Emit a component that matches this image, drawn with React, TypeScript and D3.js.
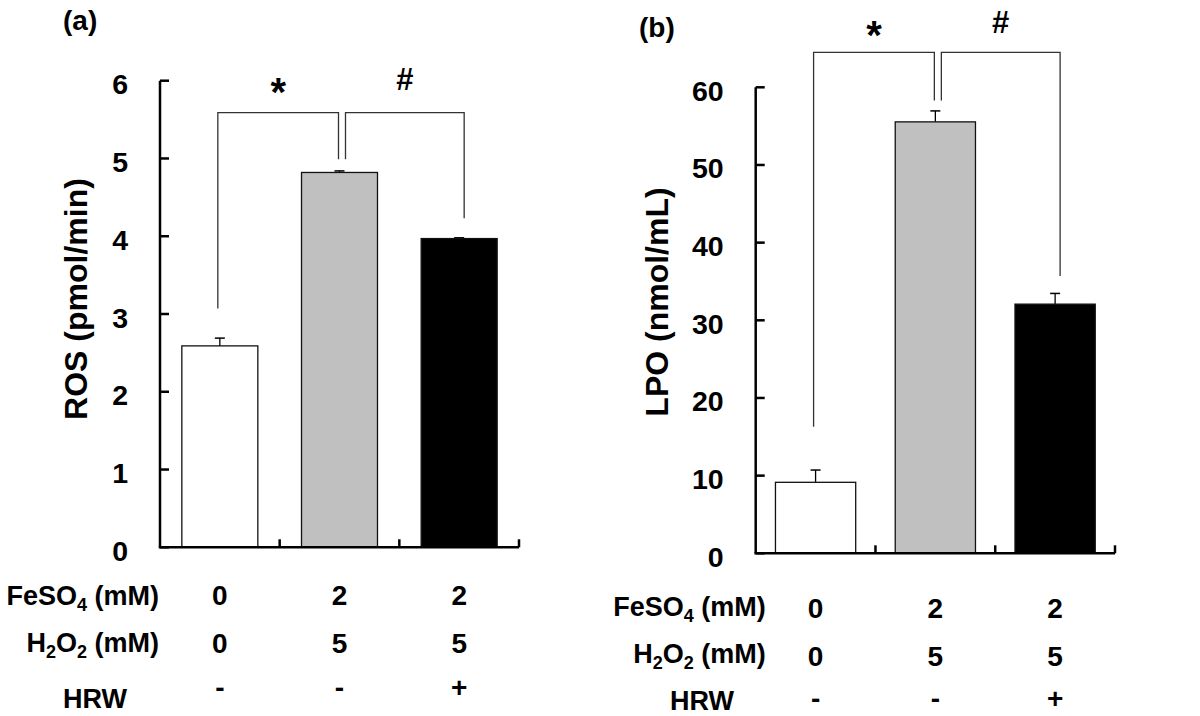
import React from "react";
import * as d3 from "d3";

const categories = ["Control", "FeSO4+H2O2", "FeSO4+H2O2+HRW"];
const rosValues = [2.59, 4.82, 3.97];
const rosErrors = [0.1, 0.02, 0.01];
const lpoValues = [9.14, 55.55, 32.08];
const lpoErrors = [1.58, 1.41, 1.38];
const rosTicks = [0, 1, 2, 3, 4, 5, 6];
const lpoTicks = [0, 10, 20, 30, 40, 50, 60];
const feso4Row = ["0", "2", "2"];
const h2o2Row = ["0", "5", "5"];
const hrwRow = ["-", "-", "+"];
const barFills = ["#ffffff", "#c0c0c0", "#000000"];
// significance brackets: [from category, to category, top value, left leg end, right leg end, symbol]
const rosBrackets: [number, number, number, number, number, string][] = [
  [0, 1, 5.59, 3.07, 4.99, "*"],
  [1, 2, 5.59, 4.99, 4.23, "#"],
];
const lpoBrackets: [number, number, number, number, number, string][] = [
  [0, 1, 64.5, 16.3, 58.3, "*"],
  [1, 2, 64.5, 58.3, 35.7, "#"],
];

const FONT = "'Liberation Sans', Arial, Helvetica, sans-serif";

type PanelProps = {
  tag: string;
  tagX: number;
  tagY: number;
  yLabel: string;
  yLabelX: number;
  yLabelY: number;
  values: number[];
  errors: number[];
  ticks: number[];
  x0: number;
  x1: number;
  yBottom: number;
  yTop: number;
  barFrac: number;
  brackets: [number, number, number, number, number, string][];
  symbolBaselines: number[];
  rowStartX: number[];
  rowBaselines: number[];
  valueBaselines: number[];
  rowAnchorEnd: number;
};

function Panel(p: PanelProps) {
  const yMax = p.ticks[p.ticks.length - 1];
  const y = d3.scaleLinear().domain([0, yMax]).range([p.yBottom, p.yTop]);
  const x = d3.scaleBand<string>().domain(categories).range([p.x0, p.x1]).padding(0);
  const bw = x.bandwidth();
  const barW = bw * p.barFrac;
  const cx = (i: number) => (x(categories[i]) as number) + bw / 2;
  const rows = [feso4Row, h2o2Row, hrwRow];
  return (
    <g fontFamily={FONT} fontWeight="bold" fill="#000">
      <text x={p.tagX} y={p.tagY} fontSize={28}>{p.tag}</text>
      {/* y label */}
      <text
        transform={`translate(${p.yLabelX},${p.yLabelY}) rotate(-90)`}
        textAnchor="middle"
        fontSize={32}
      >
        {p.yLabel}
      </text>
      {/* bars */}
      {p.values.map((v, i) => (
        <g key={i}>
          <line
            x1={cx(i)}
            x2={cx(i)}
            y1={y(v)}
            y2={y(v + p.errors[i])}
            stroke="#000"
            strokeWidth={1.3}
          />
          <line
            x1={cx(i) - 5}
            x2={cx(i) + 5}
            y1={y(v + p.errors[i])}
            y2={y(v + p.errors[i])}
            stroke="#000"
            strokeWidth={1.5}
          />
          <rect
            x={cx(i) - barW / 2}
            y={y(v)}
            width={barW}
            height={y(0) - y(v)}
            fill={barFills[i]}
            stroke="#111"
            strokeWidth={1.3}
          />
        </g>
      ))}
      {/* y axis */}
      <line x1={p.x0} x2={p.x0} y1={y(yMax)} y2={y(0)} stroke="#000" strokeWidth={2.5} />
      {p.ticks.map((t) => (
        <g key={t}>
          <line x1={p.x0} x2={p.x0 + 9} y1={y(t)} y2={y(t)} stroke="#000" strokeWidth={2.5} />
          <text x={p.x0 - 32} y={y(t) + 13.5} textAnchor="end" fontSize={28.5}>
            {t}
          </text>
        </g>
      ))}
      {/* x axis */}
      <line x1={p.x0 - 1.25} x2={p.x1} y1={y(0)} y2={y(0)} stroke="#000" strokeWidth={2.5} />
      {categories.map((c) => (
        <line
          key={c}
          x1={(x(c) as number) + bw}
          x2={(x(c) as number) + bw}
          y1={y(0)}
          y2={y(0) - 8}
          stroke="#000"
          strokeWidth={2.5}
        />
      ))}
      {/* brackets */}
      {p.brackets.map(([a, b, top, l, r, sym], k) => {
        const xa = cx(a) + (k === 0 ? -2 : 6);
        const xb = cx(b) + (k === 0 ? -1 : 5);
        return (
          <g key={k}>
            <path
              d={`M${xa},${y(l)}V${y(top)}H${xb}V${y(r)}`}
              fill="none"
              stroke="#333"
              strokeWidth={1.3}
            />
            <text
              x={(xa + xb) / 2}
              y={p.symbolBaselines[k]}
              textAnchor="middle"
              fontSize={sym === "*" ? 40 : 31}
            >
              {sym}
            </text>
          </g>
        );
      })}
      {/* condition rows */}
      <text x={p.rowAnchorEnd} y={p.rowBaselines[0]} textAnchor="end" fontSize={27}>
        FeSO<tspan fontSize={18} dy={6}>4</tspan>
        <tspan dy={-6}> (mM)</tspan>
      </text>
      <text x={p.rowAnchorEnd} y={p.rowBaselines[1]} textAnchor="end" fontSize={27}>
        H<tspan fontSize={18} dy={6}>2</tspan>
        <tspan dy={-6}>O</tspan>
        <tspan fontSize={18} dy={6}>2</tspan>
        <tspan dy={-6}> (mM)</tspan>
      </text>
      <text x={p.rowStartX[2]} y={p.rowBaselines[2]} fontSize={27}>
        HRW
      </text>
      {rows.map((row, r) =>
        row.map((v, i) => (
          <text key={`${r}-${i}`} x={cx(i)} y={p.valueBaselines[r]} textAnchor="middle" fontSize={28}>
            {v}
          </text>
        ))
      )}
    </g>
  );
}

export default function App() {
  return (
    <svg
      width={1200}
      height={716}
      style={{ position: "absolute", left: 0, top: 0, background: "#fff" }}
    >
      <rect width={1200} height={716} fill="#fff" />
      <Panel
        tag="(a)"
        tagX={63}
        tagY={30}
        yLabel="ROS (pmol/min)"
        yLabelX={87}
        yLabelY={299}
        values={rosValues}
        errors={rosErrors}
        ticks={rosTicks}
        x0={160}
        x1={519}
        yBottom={547.3}
        yTop={80.7}
        barFrac={0.635}
        brackets={rosBrackets}
        symbolBaselines={[106, 89.5]}
        rowStartX={[5, 25, 63]}
        rowBaselines={[605, 652, 708]}
        valueBaselines={[605, 653, 697]}
        rowAnchorEnd={159}
      />
      <Panel
        tag="(b)"
        tagX={639}
        tagY={37}
        yLabel="LPO (nmol/mL)"
        yLabelX={668}
        yLabelY={302}
        values={lpoValues}
        errors={lpoErrors}
        ticks={lpoTicks}
        x0={755.7}
        x1={1115}
        yBottom={553.3}
        yTop={87.3}
        barFrac={0.67}
        brackets={lpoBrackets}
        symbolBaselines={[49, 33]}
        rowStartX={[612, 630, 670]}
        rowBaselines={[616, 663, 710]}
        valueBaselines={[618, 666, 708]}
        rowAnchorEnd={765.7}
      />
    </svg>
  );
}
